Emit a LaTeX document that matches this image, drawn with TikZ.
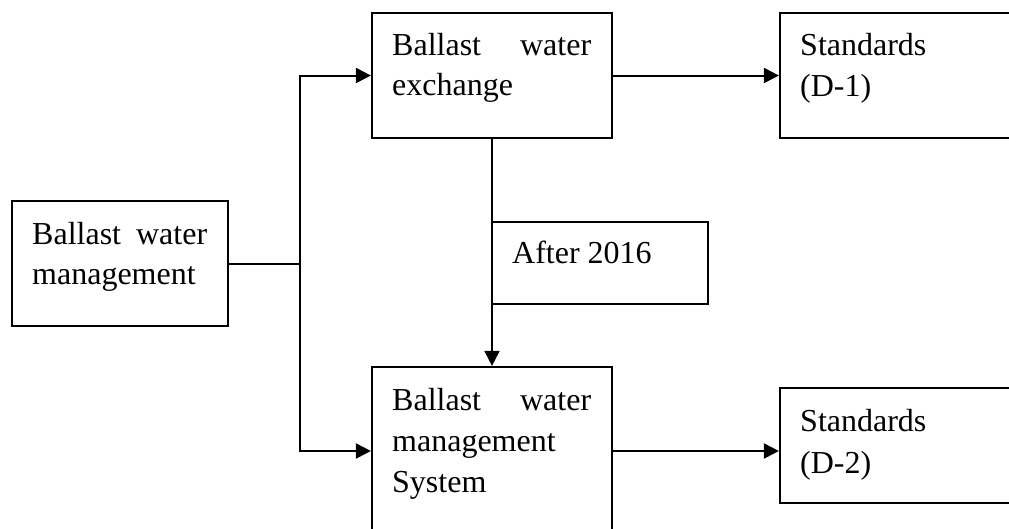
\documentclass[tikz,border=0pt]{standalone}
\usepackage{fontspec}
\setmainfont{Liberation Serif}
\usetikzlibrary{arrows.meta}
\begin{document}
\begin{tikzpicture}[x=1pt,y=-1pt,
  box/.style={draw, line width=2.2pt, inner sep=0pt, rectangle},
  lbl/.style={anchor=base west, inner sep=0pt, font=\fontsize{32}{40}\selectfont},
  conn/.style={line width=2pt},
  arr/.style={line width=2pt, -{Triangle[length=15pt,width=15pt]}}]
\useasboundingbox (0,0) rectangle (1009,528);
% boxes
\node[box, minimum width=216pt, minimum height=125pt] (bwm) at (120,263.5) {};
\node[box, minimum width=240pt, minimum height=125pt] (bwe) at (492,75.5) {};
\node[box, minimum width=240pt, minimum height=168pt] (bwms) at (492,451) {};
\node[box, minimum width=250pt, minimum height=125pt] (s1) at (905,75.5) {};
\node[box, minimum width=250pt, minimum height=115pt] (s2) at (905,445.5) {};
\node[box, minimum width=216pt, minimum height=82pt] (after) at (600,263) {};
% texts
\node[lbl] (t1a) at (32,244) {\makebox[175pt][s]{Ballast\hfill water}};
\node[lbl] (t1b) at (32,284) {management};
\node[lbl] (t2a) at (392,55) {\makebox[199pt][s]{Ballast\hfill water}};
\node[lbl] (t2b) at (392,95) {exchange};
\node[lbl] (t3a) at (392,410) {\makebox[199pt][s]{Ballast\hfill water}};
\node[lbl] (t3b) at (392,451) {management};
\node[lbl] (t3c) at (392,492) {System};
\node[lbl] (t4a) at (800,55) {Standards};
\node[lbl] (t4b) at (800,96) {(D-1)};
\node[lbl] (t5a) at (800,431) {Standards};
\node[lbl] (t5b) at (800,473) {(D-2)};
\node[lbl] (t6) at (512,263) {After 2016};
% connectors
\coordinate (jn) at (300,263.5);
\draw[conn] (bwm.east) -- (jn);
\draw[arr] (jn) |- (bwe.west);
\draw[arr] (jn) |- (bwms.west);
\draw[arr] (bwe.east) -- (s1.west);
\draw[arr] (bwms.east) -- (bwms.east -| s2.west);
\draw[arr] (bwe.south) -- (bwms.north);
\end{tikzpicture}
\end{document}
